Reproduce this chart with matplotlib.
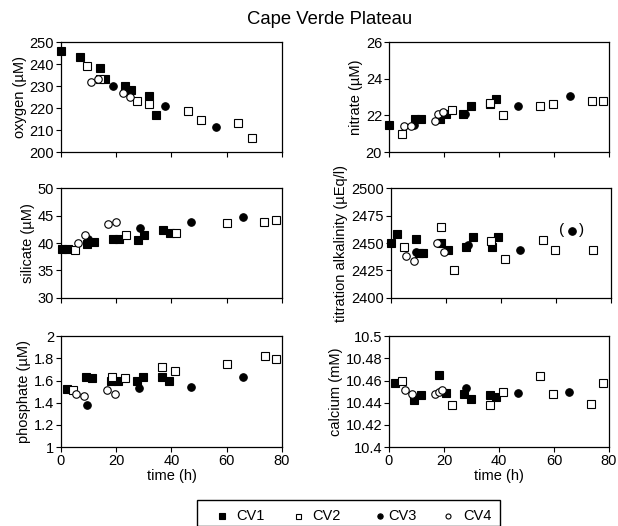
import numpy as np
import matplotlib
matplotlib.use('Agg')
import matplotlib.pyplot as plt
from matplotlib.lines import Line2D
from matplotlib.patches import Rectangle

plt.rcParams['font.family'] = ['Liberation Sans', 'DejaVu Sans']
plt.rcParams['font.size'] = 10

# ---- data: (time h, value) per cruise station ----
# oxygen (uM)
oxy_cv1_t = [0, 7, 14, 16, 23, 25.5, 32, 34.5]
oxy_cv1_v = [246, 243, 238, 233, 230, 228, 225.5, 217]
oxy_cv2_t = [9.3, 14, 27.5, 32, 46, 50.5, 64, 69]
oxy_cv2_v = [239, 233, 223, 222, 218.5, 214.5, 213, 206.5]
oxy_cv3_t = [19, 37.5, 56]
oxy_cv3_v = [230, 221, 211.5]
oxy_cv4_t = [11, 13.5, 22.5, 25]
oxy_cv4_v = [232, 233, 227, 225]

# nitrate (uM)
nit_cv1_t = [0, 9.5, 11.5, 18.5, 20.7, 27, 30, 36.7, 39]
nit_cv1_v = [21.5, 21.8, 21.8, 21.8, 22.1, 22.1, 22.5, 22.6, 22.9]
nit_cv2_t = [4.6, 23, 36.7, 41.3, 55, 59.7, 73.7, 78]
nit_cv2_v = [21.0, 22.3, 22.7, 22.0, 22.5, 22.6, 22.8, 22.8]
nit_cv3_t = [9.2, 27.8, 47, 65.7]
nit_cv3_v = [21.5, 22.1, 22.5, 23.05]
nit_cv4_t = [5.6, 8, 16.7, 18, 19.5]
nit_cv4_v = [21.4, 21.4, 21.7, 22.1, 22.2]

# silicate (uM)
sil_cv1_t = [0.5, 2.5, 9.5, 12, 18.7, 21, 27.8, 30.2, 37, 39.3]
sil_cv1_v = [39, 38.9, 39.8, 40.1, 40.8, 40.7, 40.6, 41.5, 42.3, 41.9]
sil_cv2_t = [5, 23.4, 41.7, 60, 73.6, 78]
sil_cv2_v = [38.7, 41.4, 41.9, 43.6, 43.8, 44.2]
sil_cv3_t = [9.8, 28.5, 47, 66]
sil_cv3_v = [40.8, 42.8, 43.9, 44.8]
sil_cv4_t = [6, 8.7, 17, 20]
sil_cv4_v = [40, 41.5, 43.5, 43.8]

# titration alkalinity (uEq/l)
alk_cv1_t = [0, 2.4, 9.2, 10.5, 11.7, 18.5, 20.7, 27.4, 30, 36.7, 39]
alk_cv1_v = [2450, 2458.5, 2454, 2441, 2440.6, 2450, 2443.6, 2446.7, 2455.8, 2446.7, 2455.8]
alk_cv2_t = [4.7, 18.4, 23.1, 36.6, 41.5, 55.3, 59.8, 73.7]
alk_cv2_v = [2446, 2464.5, 2425.5, 2451.5, 2435.5, 2452.7, 2443.6, 2444]
alk_cv3_t = [9.2, 28.2, 47, 65.8]
alk_cv3_v = [2441.5, 2448, 2444, 2461]
alk_cv4_t = [5.6, 8.4, 16.7, 19.5]
alk_cv4_v = [2438.5, 2434, 2450, 2441.5]

# phosphate (uM)
pho_cv1_t = [2, 8.9, 11.3, 18.2, 20.5, 27.4, 29.8, 36.7, 39.1]
pho_cv1_v = [1.52, 1.63, 1.62, 1.60, 1.60, 1.60, 1.63, 1.63, 1.60]
pho_cv2_t = [4.5, 18.5, 23.1, 36.7, 41.2, 60, 74, 78]
pho_cv2_v = [1.51, 1.63, 1.62, 1.72, 1.69, 1.75, 1.82, 1.79]
pho_cv3_t = [9.4, 28.2, 47, 66]
pho_cv3_v = [1.38, 1.53, 1.54, 1.63]
pho_cv4_t = [5.3, 8.3, 16.7, 19.5]
pho_cv4_v = [1.48, 1.46, 1.51, 1.48]

# calcium (mM)
cal_cv1_t = [2.2, 9.2, 11.5, 18.3, 20.6, 27.2, 29.9, 36.7, 39]
cal_cv1_v = [10.458, 10.442, 10.447, 10.465, 10.449, 10.448, 10.443, 10.447, 10.445]
cal_cv2_t = [4.7, 23, 36.7, 41.3, 54.8, 59.7, 73.4, 78]
cal_cv2_v = [10.46, 10.438, 10.438, 10.45, 10.464, 10.448, 10.439, 10.458]
cal_cv3_t = [9.1, 28, 47, 65.6]
cal_cv3_v = [10.445, 10.453, 10.449, 10.45]
cal_cv4_t = [5.7, 8.2, 16.7, 18.2, 19.4]
cal_cv4_v = [10.451, 10.448, 10.448, 10.45, 10.451]

station_names = ['CV1', 'CV2', 'CV3', 'CV4']
marker_styles = [('s', 'black'), ('s', 'white'), ('o', 'black'), ('o', 'white')]

panels = [
    # (axes rect, ylabel, ylim, yticks, ytick labels, series, show x labels)
    ([0.0987, 0.711, 0.3576, 0.209], 'oxygen (\u00b5M)', (200, 250),
     [200, 210, 220, 230, 240, 250], None,
     [(oxy_cv1_t, oxy_cv1_v), (oxy_cv2_t, oxy_cv2_v), (oxy_cv3_t, oxy_cv3_v), (oxy_cv4_t, oxy_cv4_v)], False),
    ([0.6294, 0.711, 0.356, 0.209], 'nitrate (\u00b5M)', (20, 26),
     [20, 22, 24, 26], None,
     [(nit_cv1_t, nit_cv1_v), (nit_cv2_t, nit_cv2_v), (nit_cv3_t, nit_cv3_v), (nit_cv4_t, nit_cv4_v)], False),
    ([0.0987, 0.4335, 0.3576, 0.209], 'silicate (\u00b5M)', (30, 50),
     [30, 35, 40, 45, 50], None,
     [(sil_cv1_t, sil_cv1_v), (sil_cv2_t, sil_cv2_v), (sil_cv3_t, sil_cv3_v), (sil_cv4_t, sil_cv4_v)], False),
    ([0.632, 0.4335, 0.356, 0.209], 'titration alkalinity (\u00b5Eq/l)', (2400, 2500),
     [2400, 2425, 2450, 2475, 2500], None,
     [(alk_cv1_t, alk_cv1_v), (alk_cv2_t, alk_cv2_v), (alk_cv3_t, alk_cv3_v), (alk_cv4_t, alk_cv4_v)], False),
    ([0.0987, 0.150, 0.3576, 0.211], 'phosphate (\u00b5M)', (1, 2),
     [1, 1.2, 1.4, 1.6, 1.8, 2], ['1', '1.2', '1.4', '1.6', '1.8', '2'],
     [(pho_cv1_t, pho_cv1_v), (pho_cv2_t, pho_cv2_v), (pho_cv3_t, pho_cv3_v), (pho_cv4_t, pho_cv4_v)], True),
    ([0.6294, 0.150, 0.356, 0.211], 'calcium (mM)', (10.4, 10.5),
     [10.4, 10.42, 10.44, 10.46, 10.48, 10.5], ['10.4', '10.42', '10.44', '10.46', '10.48', '10.5'],
     [(cal_cv1_t, cal_cv1_v), (cal_cv2_t, cal_cv2_v), (cal_cv3_t, cal_cv3_v), (cal_cv4_t, cal_cv4_v)], True),
]

fig = plt.figure(figsize=(6.18, 5.26), dpi=100)

axes = []
for rect, ylabel, ylim, yticks, yticklabels, series, show_x in panels:
    ax = fig.add_axes(rect)
    for (t, v), (mk, fc) in zip(series, marker_styles):
        ms = 5.6 if mk == 's' else 5.4
        ax.plot(t, v, linestyle='none', marker=mk, markersize=ms,
                markerfacecolor=fc, markeredgecolor='black',
                markeredgewidth=0.8, clip_on=False, zorder=3)
    ax.set_xlim(0, 80)
    ax.set_ylim(*ylim)
    ax.set_xticks([0, 20, 40, 60, 80])
    ax.set_yticks(yticks)
    if yticklabels is not None:
        ax.set_yticklabels(yticklabels)
    if show_x:
        ax.set_xlabel('time (h)', fontsize=10.5, labelpad=1)
    else:
        ax.set_xticklabels([])
    ax.set_ylabel(ylabel, fontsize=10.5, labelpad=2)
    ax.tick_params(direction='out', length=3.5, width=0.8, labelsize=10.5, pad=1.5)
    for s in ax.spines.values():
        s.set_linewidth(0.9)
    axes.append(ax)

# bracketed alkalinity point
for sym, dx in (('(', -7), (')', 7)):
    axes[3].annotate(sym, (alk_cv3_t[3], alk_cv3_v[3]), xytext=(dx, 0.5),
                     textcoords='offset points', ha='center', va='center', fontsize=11)

fig.text(330 / 618, 1 - 20 / 526, 'Cape Verde Plateau', ha='center', va='center', fontsize=13.3)

# legend box along the bottom edge
fig.add_artist(Rectangle((196.7 / 618, 0), (500 - 196.7) / 618, (526 - 505) / 526 + 0.01,
                         transform=fig.transFigure, fill=False, edgecolor='black', linewidth=1.0,
                         clip_on=False))
leg_marker_x = [221.7, 298, 380, 448]
leg_text_x = [236.7, 312.7, 388, 463]
leg_y = 1 - 516 / 526
for name, (mk, fc), mx, tx in zip(station_names, marker_styles, leg_marker_x, leg_text_x):
    fig.add_artist(Line2D([mx / 618], [leg_y], transform=fig.transFigure, linestyle='none',
                          marker=mk, markersize=3.8 if fc == 'black' else 3.6,
                          markerfacecolor=fc, markeredgecolor='black', markeredgewidth=0.8))
    fig.text(tx / 618, leg_y, name, ha='left', va='center', fontsize=10.5)

fig.savefig('out.png', dpi=100)
